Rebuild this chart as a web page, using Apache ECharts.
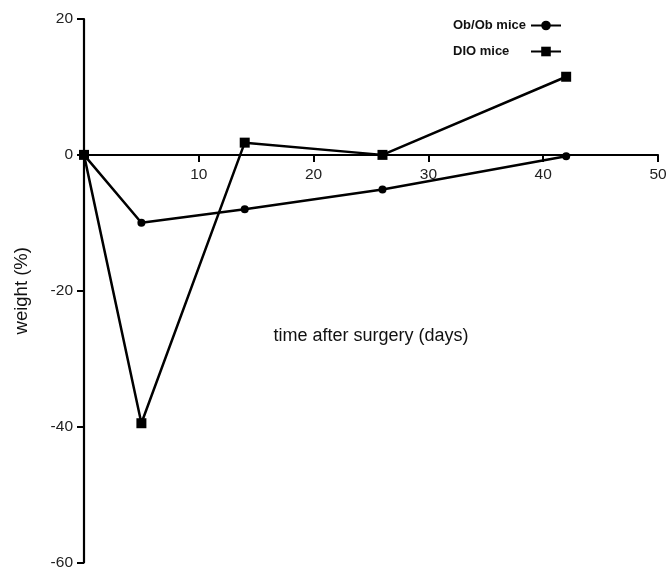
<!DOCTYPE html>
<html>
<head>
<meta charset="utf-8">
<script src="https://cdn.jsdelivr.net/npm/echarts@6/dist/echarts.min.js"></script>
<style>html,body{margin:0;padding:0;background:#fff}#c{width:666px;height:572px}</style>
</head>
<body>
<div id="c"></div>
<script>
var days = [0, 5, 14, 26, 42];
var obob = [0, -10, -8, -5.1, -0.2];
var dio = [0, -39.5, 1.8, 0, 11.5];
var xTicks = [0, 10, 20, 30, 40, 50];
var yTicks = [-60, -40, -20, 0, 20];

function pairs(xs, ys){ return xs.map(function(x,i){ return [x, ys[i]]; }); }

var chart = echarts.init(document.getElementById('c'));
var font = 'Liberation Sans, Arial, sans-serif';
var gridTop = 19, gridBottom = 9.5, H = 572;
var yMin = yTicks[0], yMax = yTicks[yTicks.length-1];
var plotH = H - gridTop - gridBottom;
var zeroOffset = -plotH * (0 - yMin) / (yMax - yMin);
chart.setOption({
  animation: false,
  backgroundColor: '#fff',
  grid: {left: 84, right: 8, top: gridTop, bottom: gridBottom, containLabel: false, outerBoundsMode: 'none'},
  legend: {
    orient: 'vertical', left: 448, top: 14, align: 'right', itemGap: 13,
    itemWidth: 30, itemHeight: 12,
    formatter: '{n|{name}}',
    textStyle: {fontFamily: font, fontSize: 13, fontWeight: 'bold', color: '#111',
      rich: {n: {width: 73, align: 'left', fontFamily: font, fontSize: 13, fontWeight: 'bold', color: '#111'}}},
    data: ['Ob/Ob mice', 'DIO mice']
  },
  xAxis: {
    type: 'value', min: xTicks[0], max: xTicks[xTicks.length-1], interval: 10,
    position: 'bottom', offset: zeroOffset,
    axisLine: {onZero: false, lineStyle: {color: '#000', width: 2.2}},
    axisTick: {show: true, inside: false, length: 7, lineStyle: {color: '#000', width: 2}},
    axisLabel: {fontFamily: font, fontSize: 15.5, color: '#222', margin: 12,
      formatter: function(v){ return v === 0 ? '' : v; }},
    splitLine: {show: false},
    name: 'time after surgery (days)', nameLocation: 'middle', nameGap: 172,
    nameTextStyle: {fontFamily: font, fontSize: 18, color: '#111'}
  },
  yAxis: {
    type: 'value', min: yMin, max: yMax, interval: 20,
    axisLine: {show: true, onZero: false, lineStyle: {color: '#000', width: 2.2}},
    axisTick: {show: true, inside: false, length: 7, lineStyle: {color: '#000', width: 2}},
    axisLabel: {fontFamily: font, fontSize: 15.5, color: '#222', margin: 11},
    splitLine: {show: false},
    name: 'weight (%)', nameLocation: 'middle', nameGap: 53, nameRotate: 90,
    nameTextStyle: {fontFamily: font, fontSize: 18.5, color: '#111'}
  },
  series: [
    {name: 'Ob/Ob mice', type: 'line', data: pairs(days, obob), symbol: 'circle', symbolSize: 8,
      itemStyle: {color: '#000'}, lineStyle: {color: '#000', width: 2.5}},
    {name: 'DIO mice', type: 'line', data: pairs(days, dio), symbol: 'rect', symbolSize: 10,
      itemStyle: {color: '#000'}, lineStyle: {color: '#000', width: 2.5}}
  ]
});
</script>
</body>
</html>
